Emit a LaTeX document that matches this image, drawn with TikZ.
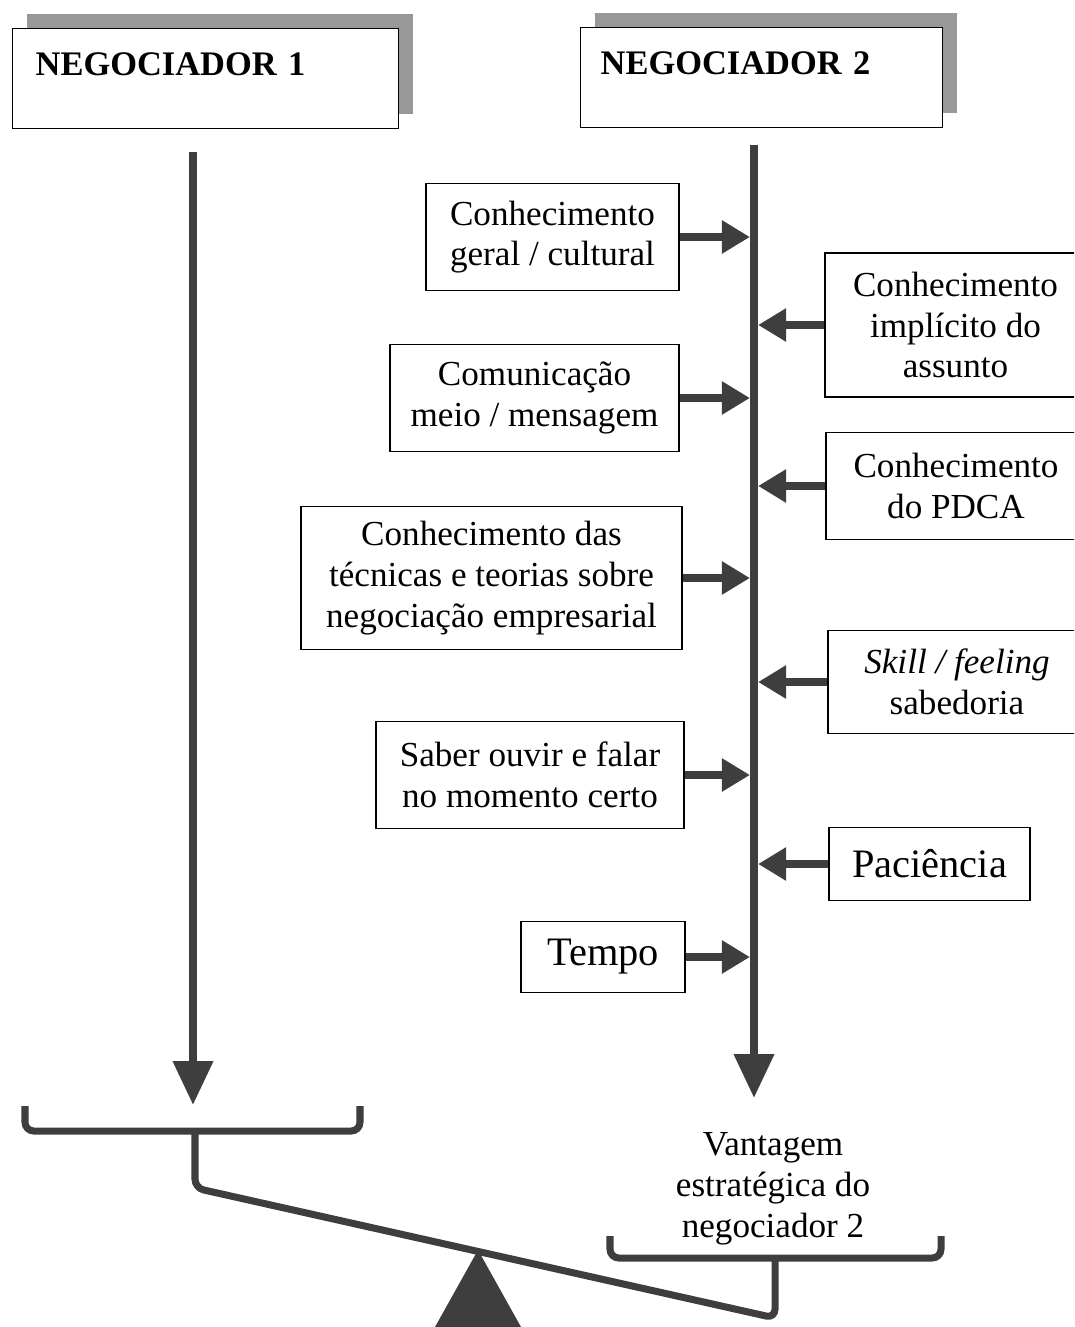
\documentclass[tikz,border=0pt]{standalone}
\usepackage{fontspec}
\setmainfont{Liberation Serif}
\usepackage{xcolor}
\usepackage{tikz}
\usetikzlibrary{arrows.meta, calc, shadows}
\definecolor{beamgray}{RGB}{62, 62, 62}
\definecolor{shadowgray}{RGB}{152, 152, 152}

\tikzset{
    headbox/.style={draw=black, line width=0.8pt, fill=white, anchor=north west, align=left,
        inner ysep=0.3cm, text height=0.64cm, text depth=0.76cm,
        font=\fontsize{19.6}{23}\selectfont\bfseries,
        drop shadow={shadow xshift=0.28cm, shadow yshift=0.3cm, fill=shadowgray, opacity=1}},
    factorbox/.style={draw=black, line width=0.8pt, fill=white, align=center, inner sep=2pt,
        font=\fontsize{20}{23.2}\selectfont},
    pushto/.style={draw=beamgray, line width=4pt, -{Triangle[length=16pt, width=18pt]}, shorten >=2.3pt},
    mainline/.style={draw=beamgray, line width=4.6pt, -{Triangle[length=25pt, width=22pt]}},
    beam/.style={draw=beamgray, line width=4pt, rounded corners=5pt}
}

\begin{document}
\begin{tikzpicture}[x=0.02cm, y=-0.02cm]
    \useasboundingbox (0,0) rectangle (1074,1327);
    \clip (0,0) rectangle (1074,1327);

    % the two negotiators
    \node[headbox, text width=6.8cm, inner xsep=0.46cm] (neg1) at (12,28) {NEGOCIADOR 1};
    \node[headbox, text width=6.44cm, inner xsep=0.4cm] (neg2) at (580,27) {NEGOCIADOR 2};

    \coordinate (v1top) at (193,152);
    \coordinate (v1end) at (193,1105);
    \coordinate (v2top) at (754,145);
    \coordinate (v2end) at (754,1098);
    \draw[mainline] (v1top) -- (v1end);
    \draw[mainline] (v2top) -- (v2end);

    % factors on the left of negotiator 2
    \node[factorbox, minimum width=5.06cm, minimum height=2.14cm] (geral) at (552.5,237) {Conhecimento\\geral / cultural};
    \node[factorbox, minimum width=5.78cm, minimum height=2.14cm] (comun) at (534.5,398) {Comunicação\\meio / mensagem};
    \node[factorbox, minimum width=7.62cm, minimum height=2.86cm] (tecnic) at (491.5,578) {Conhecimento das\\técnicas e teorias sobre\\negociação empresarial};
    \node[factorbox, minimum width=6.16cm, minimum height=2.14cm] (ouvir) at (530,775) {Saber ouvir e falar\\no momento certo};
    \node[factorbox, minimum width=3.28cm, minimum height=1.42cm, font=\fontsize{23}{27}\selectfont] (tempo) at (603,957) {Tempo};

    % factors on the right
    \node[factorbox, minimum width=5.22cm, minimum height=2.88cm] (implic) at (955.5,325) {Conhecimento\\implícito do\\assunto};
    \node[factorbox, minimum width=5.2cm, minimum height=2.14cm] (pdca) at (956,486) {Conhecimento\\do PDCA};
    \node[factorbox, minimum width=5.16cm, minimum height=2.06cm] (skill) at (957,682) {\textit{Skill / feeling}\\sabedoria};
    \node[factorbox, minimum width=4.02cm, minimum height=1.46cm, font=\fontsize{23}{27}\selectfont] (pacien) at (929.5,864) {Paciência};

    \foreach \b in {geral, comun, tecnic, ouvir, tempo}
        \draw[pushto] (\b.east) -- (\b.east -| v2top);
    \foreach \b in {implic, pdca, skill, pacien}
        \draw[pushto] (\b.west) -- (\b.west -| v2top);

    % the balance
    \fill[beamgray] (478,1250) -- (435,1327) -- (521,1327) -- cycle;
    \draw[beam] (25,1106) -- (25,1131) -- (360,1131) -- (360,1106);
    \draw[beam] (195,1131) -- (195,1188) -- (775,1318) -- (775,1258);
    \draw[beam] (610,1236) -- (610,1258) -- (941,1258) -- (941,1236);
    \node[font=\fontsize{20}{23.2}\selectfont, align=center] (vantagem) at (773,1189) {Vantagem\\estratégica do\\negociador 2};
\end{tikzpicture}
\end{document}
